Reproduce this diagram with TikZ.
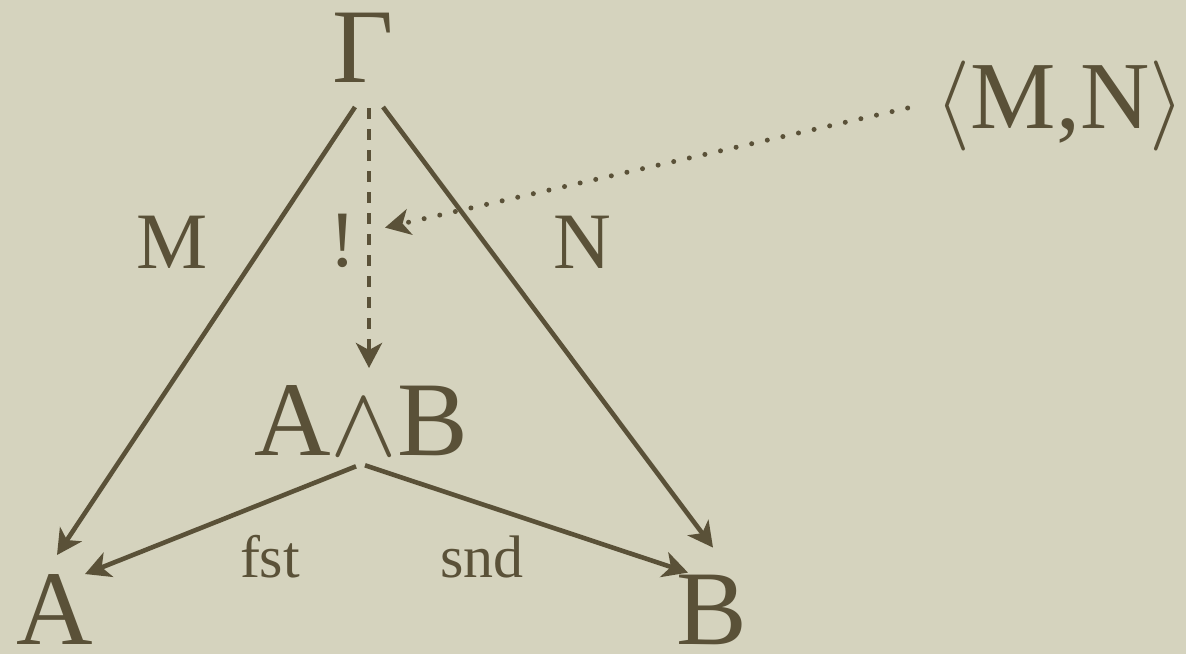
\documentclass[tikz,border=0pt]{standalone}
\usepackage{graphicx}
\usepackage{fontspec}
\setmainfont{Liberation Serif}
\definecolor{parchment}{RGB}{213,211,190}
\definecolor{inkbrown}{RGB}{90,81,56}
\usetikzlibrary{arrows.meta}
% math symbols at display size (cm math fonts stop at 25pt)
\newcommand{\bigsym}[2]{\scalebox{#1}{\fontsize{10}{12}\selectfont$#2$}}

\begin{document}
\begin{tikzpicture}[
  x=0.5pt, y=-0.5pt,
  obj/.style={inkbrown, inner sep=0pt, outer sep=0pt, anchor=base, font=\fontsize{53}{60}\selectfont},
  pair/.style={inkbrown, inner sep=0pt, outer sep=0pt, anchor=base, font=\fontsize{48}{52}\selectfont},
  lbl/.style={inkbrown, inner sep=0pt, anchor=base, font=\fontsize{40}{44}\selectfont},
  proj/.style={inkbrown, inner sep=0pt, anchor=base, font=\fontsize{30}{34}\selectfont},
  arr/.style={-{Stealth[length=12.5pt,width=13pt,inset=3.5pt]}, line width=2.3pt, inkbrown},
  uniq/.style={arr, dash pattern=on 5.5pt off 5pt},
  pairing/.style={arr, line width=2.5pt, line cap=round, dash pattern=on 0pt off 8pt}
]
\useasboundingbox (0,0) rectangle (1186,654);
\fill[parchment] (0,0) rectangle (1186,654);

% objects
\node[obj] (G) at (363,82) {Γ};
\node[obj] (AB) at (361,455) {A\bigsym{5}{\wedge}B};
\node[obj] (A) at (55,644) {A};
\node[obj] (B) at (712,644) {B};
\node[pair] (MN) at (1060,128) {\bigsym{4.5}{\langle}M,N\bigsym{4.5}{\rangle}};

% arrow labels
\node[lbl] (m) at (172,268) {M};
\node[lbl] (n) at (582,268) {N};
\node[lbl] (bang) at (343,266) {!};
\node[proj] (fst) at (270,577) {fst};
\node[proj] (snd) at (482,577) {snd};

\draw[arr] ([shift={(-4pt,-12.5pt)}]G.south) -- ([shift={(1pt,9.5pt)}]A.north);
\draw[arr] ([shift={(10pt,-12.5pt)}]G.south) -- ([shift={(0.5pt,13.5pt)}]B.north);
\draw[uniq] ([shift={(3pt,-13pt)}]G.south) -- coordinate[pos=0.46] (mid) ([shift={(4pt,8.5pt)}]AB.north);
\draw[pairing] ([shift={(-14pt,10pt)}]MN.base west) -- ([xshift=8pt]mid);
\draw[arr] ([shift={(-2.5pt,-5.5pt)}]AB.south) -- ([shift={(15pt,0pt)}]A.north);
\draw[arr] ([shift={(2pt,-5pt)}]AB.south) -- ([shift={(-12pt,1pt)}]B.north);
\end{tikzpicture}
\end{document}
